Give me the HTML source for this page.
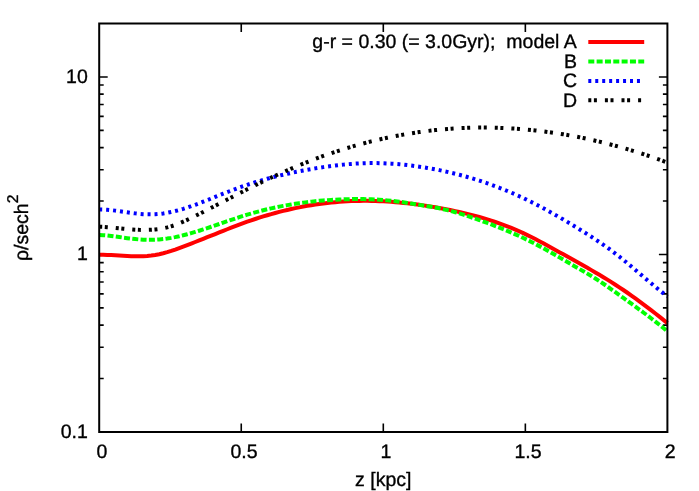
<!DOCTYPE html>
<html><head><meta charset="utf-8"><title>plot</title>
<style>
html,body{margin:0;padding:0;background:#fff;}
body{width:699px;height:491px;overflow:hidden;}
svg{display:block;will-change:transform;}
text{font-family:"Liberation Sans",sans-serif;font-size:19.5px;text-rendering:geometricPrecision;fill:#000;stroke:#000;stroke-width:0.35px;}
</style></head><body>
<svg width="699" height="491" viewBox="0 0 699 491">
<rect x="0" y="0" width="699" height="491" fill="#ffffff"/>
<path d="M241.25,432.0 V423.5 M241.25,23.5 V32.0 M383.30,432.0 V423.5 M383.30,23.5 V32.0 M525.35,432.0 V423.5 M525.35,23.5 V32.0 M99.2,378.56 H103.7 M667.4,378.56 H662.9 M99.2,347.30 H103.7 M667.4,347.30 H662.9 M99.2,325.12 H103.7 M667.4,325.12 H662.9 M99.2,307.91 H103.7 M667.4,307.91 H662.9 M99.2,293.86 H103.7 M667.4,293.86 H662.9 M99.2,281.97 H103.7 M667.4,281.97 H662.9 M99.2,271.68 H103.7 M667.4,271.68 H662.9 M99.2,262.59 H103.7 M667.4,262.59 H662.9 M99.2,254.47 H107.7 M667.4,254.47 H658.9 M99.2,201.03 H103.7 M667.4,201.03 H662.9 M99.2,169.77 H103.7 M667.4,169.77 H662.9 M99.2,147.59 H103.7 M667.4,147.59 H662.9 M99.2,130.38 H103.7 M667.4,130.38 H662.9 M99.2,116.33 H103.7 M667.4,116.33 H662.9 M99.2,104.44 H103.7 M667.4,104.44 H662.9 M99.2,94.15 H103.7 M667.4,94.15 H662.9 M99.2,85.06 H103.7 M667.4,85.06 H662.9 M99.2,76.94 H107.7 M667.4,76.94 H658.9" stroke="#000" stroke-width="1.6" fill="none"/>
<clipPath id="c"><rect x="99.2" y="23.5" width="568.1999999999999" height="408.5"/></clipPath>
<g fill="none" stroke-width="4">
<path d="M99.20,254.75 L103.20,254.79 L107.20,254.92 L111.20,255.12 L115.21,255.35 L119.21,255.61 L123.21,255.86 L127.21,256.09 L131.21,256.26 L135.21,256.36 L139.21,256.37 L143.22,256.26 L147.22,256.00 L151.22,255.58 L155.22,254.98 L159.22,254.19 L163.22,253.25 L167.22,252.16 L171.23,250.94 L175.23,249.62 L179.23,248.20 L183.23,246.72 L187.23,245.18 L191.23,243.60 L195.23,242.01 L199.24,240.41 L203.24,238.81 L207.24,237.22 L211.24,235.62 L215.24,234.02 L219.24,232.43 L223.24,230.84 L227.25,229.26 L231.25,227.70 L235.25,226.15 L239.25,224.64 L243.25,223.16 L247.25,221.73 L251.25,220.34 L255.25,219.00 L259.26,217.70 L263.26,216.45 L267.26,215.25 L271.26,214.09 L275.26,212.98 L279.26,211.92 L283.26,210.91 L287.27,209.95 L291.27,209.03 L295.27,208.16 L299.27,207.34 L303.27,206.56 L307.27,205.84 L311.27,205.16 L315.28,204.54 L319.28,203.96 L323.28,203.43 L327.28,202.95 L331.28,202.52 L335.28,202.14 L339.28,201.81 L343.29,201.53 L347.29,201.30 L351.29,201.11 L355.29,200.98 L359.29,200.90 L363.29,200.86 L367.29,200.87 L371.30,200.92 L375.30,201.02 L379.30,201.17 L383.30,201.35 L387.30,201.58 L391.30,201.85 L395.30,202.16 L399.31,202.51 L403.31,202.90 L407.31,203.32 L411.31,203.79 L415.31,204.29 L419.31,204.82 L423.31,205.39 L427.32,205.99 L431.32,206.63 L435.32,207.29 L439.32,207.99 L443.32,208.72 L447.32,209.48 L451.32,210.28 L455.33,211.12 L459.33,211.99 L463.33,212.91 L467.33,213.87 L471.33,214.87 L475.33,215.93 L479.33,217.03 L483.34,218.19 L487.34,219.41 L491.34,220.68 L495.34,222.01 L499.34,223.40 L503.34,224.86 L507.34,226.38 L511.35,227.97 L515.35,229.64 L519.35,231.37 L523.35,233.18 L527.35,235.07 L531.35,237.04 L535.35,239.08 L539.35,241.18 L543.36,243.33 L547.36,245.52 L551.36,247.72 L555.36,249.92 L559.36,252.14 L563.36,254.36 L567.36,256.58 L571.37,258.82 L575.37,261.06 L579.37,263.30 L583.37,265.56 L587.37,267.83 L591.37,270.13 L595.37,272.45 L599.38,274.81 L603.38,277.21 L607.38,279.66 L611.38,282.16 L615.38,284.72 L619.38,287.34 L623.38,290.02 L627.39,292.77 L631.39,295.57 L635.39,298.44 L639.39,301.35 L643.39,304.32 L647.39,307.35 L651.39,310.41 L655.40,313.53 L659.40,316.69 L663.40,319.89 L667.40,323.14" stroke="#ff0000"/>
<path d="M99.20,235.04 L103.20,235.18 L107.20,235.49 L111.20,235.92 L115.21,236.45 L119.21,237.02 L123.21,237.61 L127.21,238.16 L131.21,238.66 L135.21,239.10 L139.21,239.46 L143.22,239.72 L147.22,239.86 L151.22,239.87 L155.22,239.74 L159.22,239.47 L163.22,239.06 L167.22,238.52 L171.23,237.86 L175.23,237.10 L179.23,236.24 L183.23,235.28 L187.23,234.24 L191.23,233.13 L195.23,231.95 L199.24,230.72 L203.24,229.43 L207.24,228.11 L211.24,226.76 L215.24,225.39 L219.24,224.00 L223.24,222.61 L227.25,221.23 L231.25,219.85 L235.25,218.50 L239.25,217.19 L243.25,215.91 L247.25,214.68 L251.25,213.50 L255.25,212.37 L259.26,211.29 L263.26,210.27 L267.26,209.29 L271.26,208.36 L275.26,207.48 L279.26,206.65 L283.26,205.86 L287.27,205.13 L291.27,204.43 L295.27,203.78 L299.27,203.18 L303.27,202.62 L307.27,202.11 L311.27,201.63 L315.28,201.20 L319.28,200.81 L323.28,200.46 L327.28,200.15 L331.28,199.88 L335.28,199.65 L339.28,199.46 L343.29,199.30 L347.29,199.18 L351.29,199.10 L355.29,199.06 L359.29,199.06 L363.29,199.11 L367.29,199.20 L371.30,199.33 L375.30,199.51 L379.30,199.75 L383.30,200.03 L387.30,200.37 L391.30,200.76 L395.30,201.21 L399.31,201.72 L403.31,202.29 L407.31,202.90 L411.31,203.55 L415.31,204.21 L419.31,204.87 L423.31,205.51 L427.32,206.16 L431.32,206.82 L435.32,207.54 L439.32,208.32 L443.32,209.19 L447.32,210.14 L451.32,211.17 L455.33,212.27 L459.33,213.44 L463.33,214.67 L467.33,215.95 L471.33,217.29 L475.33,218.66 L479.33,220.07 L483.34,221.52 L487.34,222.99 L491.34,224.49 L495.34,226.03 L499.34,227.60 L503.34,229.20 L507.34,230.86 L511.35,232.56 L515.35,234.31 L519.35,236.12 L523.35,237.99 L527.35,239.92 L531.35,241.92 L535.35,243.98 L539.35,246.11 L543.36,248.29 L547.36,250.51 L551.36,252.77 L555.36,255.05 L559.36,257.36 L563.36,259.69 L567.36,262.02 L571.37,264.34 L575.37,266.66 L579.37,268.97 L583.37,271.29 L587.37,273.63 L591.37,276.03 L595.37,278.50 L599.38,281.07 L603.38,283.76 L607.38,286.53 L611.38,289.37 L615.38,292.24 L619.38,295.11 L623.38,297.98 L627.39,300.85 L631.39,303.73 L635.39,306.63 L639.39,309.55 L643.39,312.50 L647.39,315.49 L651.39,318.52 L655.40,321.61 L659.40,324.75 L663.40,327.97 L667.40,331.25" stroke="#00ff00" stroke-dasharray="6 2.33"/>
<path d="M99.20,209.45 L103.20,209.55 L107.20,209.79 L111.20,210.16 L115.21,210.62 L119.21,211.15 L123.21,211.71 L127.21,212.29 L131.21,212.85 L135.21,213.36 L139.21,213.79 L143.22,214.13 L147.22,214.33 L151.22,214.38 L155.22,214.24 L159.22,213.92 L163.22,213.43 L167.22,212.78 L171.23,211.98 L175.23,211.04 L179.23,209.99 L183.23,208.82 L187.23,207.55 L191.23,206.20 L195.23,204.77 L199.24,203.27 L203.24,201.73 L207.24,200.15 L211.24,198.55 L215.24,196.93 L219.24,195.31 L223.24,193.70 L227.25,192.11 L231.25,190.56 L235.25,189.05 L239.25,187.60 L243.25,186.19 L247.25,184.84 L251.25,183.53 L255.25,182.27 L259.26,181.06 L263.26,179.89 L267.26,178.77 L271.26,177.69 L275.26,176.65 L279.26,175.65 L283.26,174.70 L287.27,173.78 L291.27,172.90 L295.27,172.06 L299.27,171.25 L303.27,170.49 L307.27,169.75 L311.27,169.05 L315.28,168.38 L319.28,167.74 L323.28,167.13 L327.28,166.55 L331.28,166.01 L335.28,165.51 L339.28,165.05 L343.29,164.63 L347.29,164.25 L351.29,163.92 L355.29,163.64 L359.29,163.42 L363.29,163.24 L367.29,163.13 L371.30,163.07 L375.30,163.07 L379.30,163.13 L383.30,163.25 L387.30,163.43 L391.30,163.66 L395.30,163.94 L399.31,164.27 L403.31,164.65 L407.31,165.09 L411.31,165.57 L415.31,166.09 L419.31,166.66 L423.31,167.27 L427.32,167.92 L431.32,168.62 L435.32,169.37 L439.32,170.15 L443.32,170.99 L447.32,171.86 L451.32,172.79 L455.33,173.76 L459.33,174.78 L463.33,175.85 L467.33,176.97 L471.33,178.14 L475.33,179.36 L479.33,180.63 L483.34,181.95 L487.34,183.32 L491.34,184.74 L495.34,186.22 L499.34,187.76 L503.34,189.34 L507.34,190.98 L511.35,192.68 L515.35,194.43 L519.35,196.25 L523.35,198.11 L527.35,200.04 L531.35,202.01 L535.35,204.04 L539.35,206.12 L543.36,208.25 L547.36,210.42 L551.36,212.64 L555.36,214.90 L559.36,217.20 L563.36,219.53 L567.36,221.90 L571.37,224.31 L575.37,226.74 L579.37,229.21 L583.37,231.70 L587.37,234.23 L591.37,236.80 L595.37,239.41 L599.38,242.09 L603.38,244.83 L607.38,247.65 L611.38,250.56 L615.38,253.56 L619.38,256.66 L623.38,259.88 L627.39,263.18 L631.39,266.56 L635.39,269.97 L639.39,273.39 L643.39,276.80 L647.39,280.19 L651.39,283.54 L655.40,286.85 L659.40,290.11 L663.40,293.32 L667.40,296.47" stroke="#0000ff" stroke-dasharray="3 3.95"/>
<path d="M99.20,226.70 L103.20,226.87 L107.20,227.13 L111.20,227.47 L115.21,227.85 L119.21,228.25 L123.21,228.65 L127.21,229.03 L131.21,229.37 L135.21,229.64 L139.21,229.84 L143.22,229.94 L147.22,229.93 L151.22,229.77 L155.22,229.46 L159.22,228.98 L163.22,228.30 L167.22,227.41 L171.23,226.28 L175.23,224.93 L179.23,223.39 L183.23,221.68 L187.23,219.86 L191.23,217.94 L195.23,215.96 L199.24,213.96 L203.24,211.94 L207.24,209.90 L211.24,207.84 L215.24,205.78 L219.24,203.71 L223.24,201.63 L227.25,199.55 L231.25,197.48 L235.25,195.41 L239.25,193.35 L243.25,191.30 L247.25,189.26 L251.25,187.25 L255.25,185.26 L259.26,183.29 L263.26,181.35 L267.26,179.44 L271.26,177.55 L275.26,175.70 L279.26,173.88 L283.26,172.09 L287.27,170.33 L291.27,168.61 L295.27,166.91 L299.27,165.25 L303.27,163.62 L307.27,162.03 L311.27,160.47 L315.28,158.94 L319.28,157.45 L323.28,155.99 L327.28,154.57 L331.28,153.19 L335.28,151.84 L339.28,150.54 L343.29,149.26 L347.29,148.03 L351.29,146.83 L355.29,145.67 L359.29,144.55 L363.29,143.46 L367.29,142.41 L371.30,141.40 L375.30,140.42 L379.30,139.48 L383.30,138.58 L387.30,137.71 L391.30,136.88 L395.30,136.08 L399.31,135.33 L403.31,134.60 L407.31,133.92 L411.31,133.27 L415.31,132.65 L419.31,132.07 L423.31,131.53 L427.32,131.02 L431.32,130.55 L435.32,130.11 L439.32,129.71 L443.32,129.34 L447.32,129.01 L451.32,128.71 L455.33,128.45 L459.33,128.22 L463.33,128.03 L467.33,127.87 L471.33,127.75 L475.33,127.66 L479.33,127.61 L483.34,127.59 L487.34,127.61 L491.34,127.66 L495.34,127.74 L499.34,127.86 L503.34,128.01 L507.34,128.20 L511.35,128.42 L515.35,128.67 L519.35,128.96 L523.35,129.28 L527.35,129.63 L531.35,130.02 L535.35,130.44 L539.35,130.90 L543.36,131.39 L547.36,131.91 L551.36,132.46 L555.36,133.05 L559.36,133.67 L563.36,134.32 L567.36,135.01 L571.37,135.73 L575.37,136.48 L579.37,137.26 L583.37,138.08 L587.37,138.92 L591.37,139.80 L595.37,140.72 L599.38,141.66 L603.38,142.64 L607.38,143.65 L611.38,144.69 L615.38,145.76 L619.38,146.86 L623.38,148.00 L627.39,149.17 L631.39,150.37 L635.39,151.60 L639.39,152.86 L643.39,154.15 L647.39,155.48 L651.39,156.83 L655.40,158.22 L659.40,159.63 L663.40,161.08 L667.40,162.56" stroke="#000000" stroke-dasharray="3 2.6 3 8.0"/>
</g>
<path d="M588.3,42.00 H644.2" stroke="#ff0000" stroke-width="4" fill="none"/>
<path d="M588.3,61.45 H644.2" stroke="#00ff00" stroke-width="4" fill="none" stroke-dasharray="6 2.33"/>
<path d="M588.3,80.90 H643.6" stroke="#0000ff" stroke-width="4" fill="none" stroke-dasharray="3 3.95"/>
<path d="M588.3,100.35 H643.6" stroke="#000000" stroke-width="4" fill="none" stroke-dasharray="3 2.6 3 8.0"/>
<rect x="99.2" y="23.5" width="568.1999999999999" height="408.5" fill="none" stroke="#000" stroke-width="2"/>
<text x="576.8" y="48.3" text-anchor="end">g-r = 0.30 (= 3.0Gyr);&#160; model A</text>
<text x="577.1" y="67.75" text-anchor="end">B</text>
<text x="577.1" y="87.20" text-anchor="end">C</text>
<text x="577.1" y="106.65" text-anchor="end">D</text>
<text x="87.8" y="82.94" text-anchor="end">10</text>
<text x="87.8" y="260.47" text-anchor="end">1</text>
<text x="87.8" y="438.00" text-anchor="end">0.1</text>
<text x="101.90" y="458.3" text-anchor="middle">0</text>
<text x="243.95" y="458.3" text-anchor="middle">0.5</text>
<text x="386.00" y="458.3" text-anchor="middle">1</text>
<text x="528.05" y="458.3" text-anchor="middle">1.5</text>
<text x="670.10" y="458.3" text-anchor="middle">2</text>
<text x="383.3" y="486.4" text-anchor="middle">z [kpc]</text>
<text transform="translate(27.7,227.8) rotate(-90)" text-anchor="middle">ρ/sech<tspan font-size="15.6px" dy="-9.6">2</tspan></text>
</svg>
</body></html>
